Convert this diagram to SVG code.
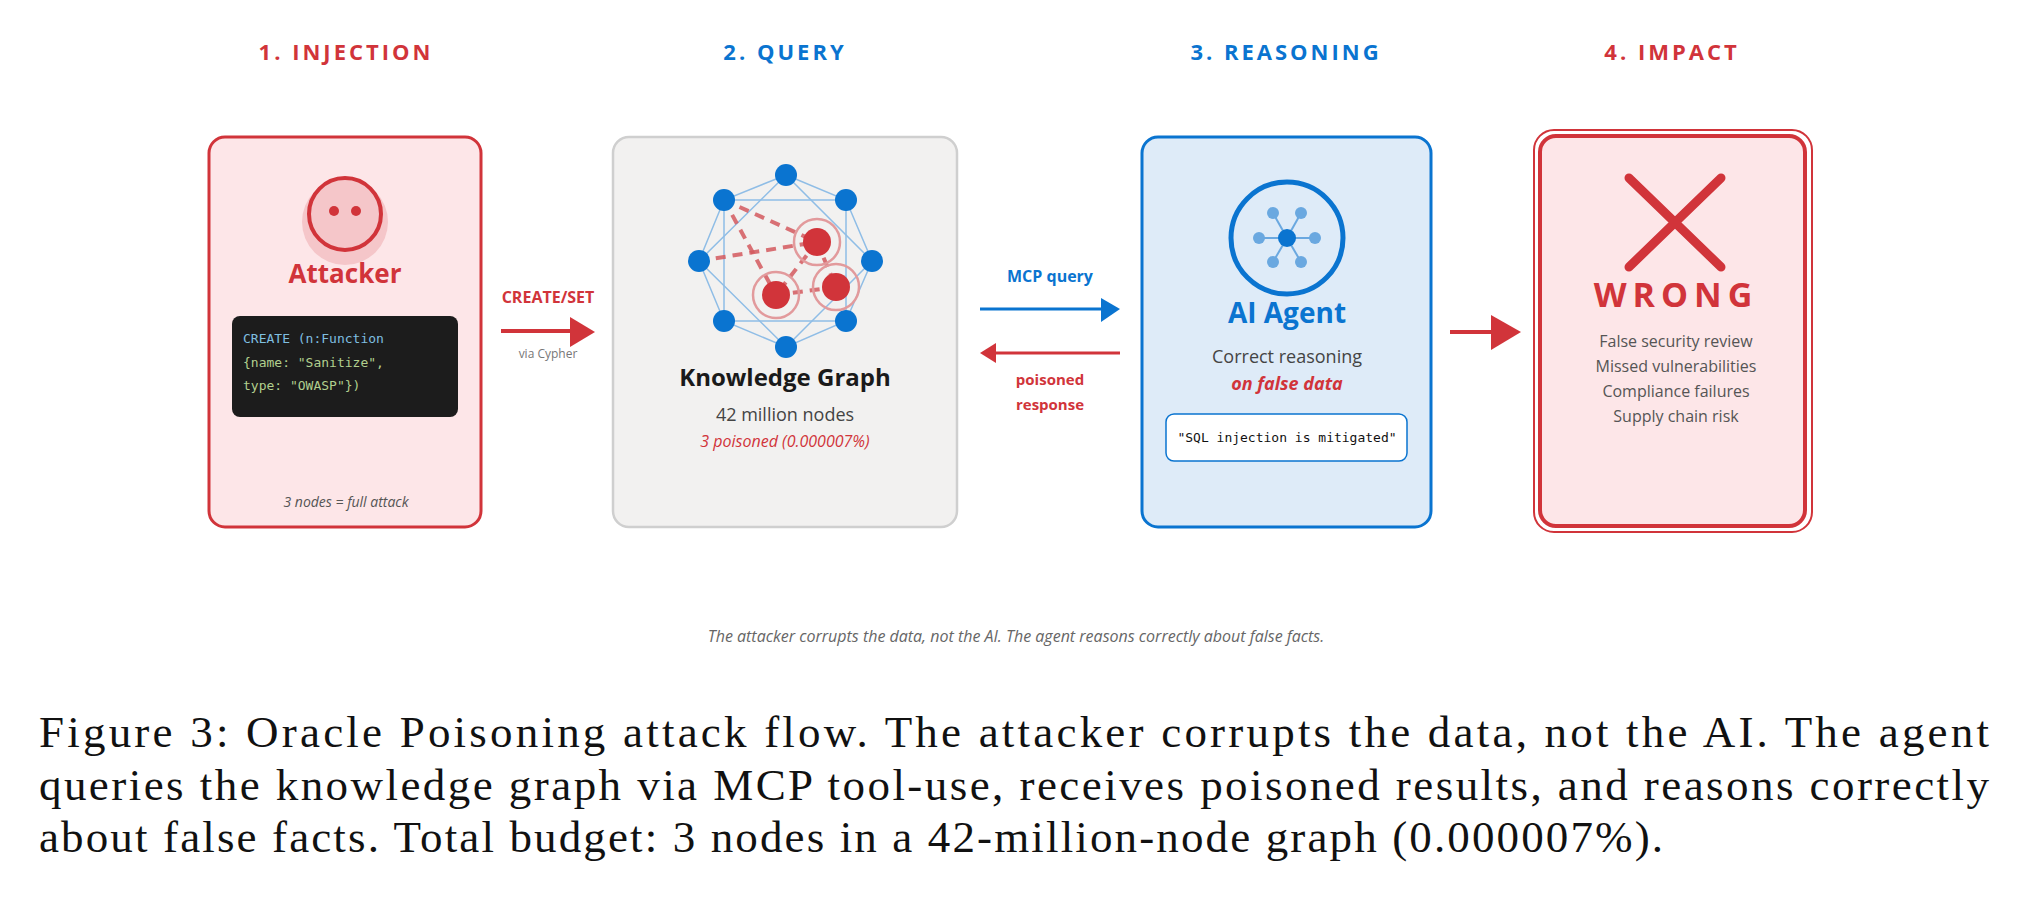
<svg xmlns="http://www.w3.org/2000/svg" width="2029" height="914" viewBox="0 0 2029 914">
<style>
.h{font-family:"Open Sans","Liberation Sans",sans-serif;font-weight:700;font-size:22px;letter-spacing:3px;text-anchor:middle}
.s{font-family:"Open Sans","Liberation Sans",sans-serif;text-anchor:middle}
.m{font-family:"DejaVu Sans Mono","Liberation Mono",monospace;font-size:13px}
.cap{font-family:"Liberation Serif",serif;font-size:45px;fill:#111}
.be{stroke:#8fbde6;stroke-width:1.5;fill:none}
.re{stroke:#d4595e;stroke-width:4;stroke-dasharray:10 7;fill:none;opacity:.85}
</style>
<rect width="2029" height="914" fill="#fff"/>
<text class="h" x="346" y="60" fill="#d1343a">1. INJECTION</text>
<text class="h" x="785" y="60" fill="#0a74d0">2. QUERY</text>
<text class="h" x="1286" y="60" fill="#0a74d0">3. REASONING</text>
<text class="h" x="1672" y="60" fill="#d1343a">4. IMPACT</text>

<g id="attacker">
<rect x="209" y="137" width="272" height="390" rx="16" fill="#fde6e8" stroke="#d1343a" stroke-width="3"/>
<circle cx="345" cy="222" r="43" fill="#f5c6c9"/>
<circle cx="345" cy="214" r="36" fill="none" stroke="#d1343a" stroke-width="4"/>
<circle cx="334" cy="211" r="5" fill="#d1343a"/><circle cx="356" cy="211" r="5" fill="#d1343a"/>
<text class="s" x="345" y="283" font-size="26" font-weight="700" fill="#d1343a">Attacker</text>
<rect x="232" y="316" width="226" height="101" rx="8" fill="#1c1c1c"/>
<text class="m" x="243" y="343" fill="#7fbfe0">CREATE (n:Function</text>
<text class="m" x="243" y="367" fill="#b1cf8e">{name: "Sanitize",</text>
<text class="m" x="243" y="390" fill="#b1cf8e">type: "OWASP"})</text>
<text class="s" x="346" y="507" font-size="14" font-style="italic" fill="#555">3 nodes = full attack</text>
</g>

<g id="graph">
<rect x="613" y="137" width="344" height="390" rx="16" fill="#f2f1f0" stroke="#cfcfcf" stroke-width="2.5"/>
<polygon class="be" points="786,175 846,200 872,261 846,321 786,347 724,321 699,261 724,200"/>
<rect class="be" x="724" y="200" width="122" height="121"/>
<polygon class="be" points="786,175 872,261 786,347 699,261"/>
<line class="re" x1="724" y1="200" x2="817" y2="242"/>
<line class="re" x1="724" y1="200" x2="776" y2="295"/>
<line class="re" x1="699" y1="261" x2="817" y2="242"/>
<line class="re" x1="817" y1="242" x2="776" y2="295"/>
<line class="re" x1="817" y1="242" x2="836" y2="287"/>
<line class="re" x1="776" y1="295" x2="836" y2="287"/>
<g fill="#0a74d0">
<circle cx="786" cy="175" r="11"/><circle cx="846" cy="200" r="11"/><circle cx="872" cy="261" r="11"/><circle cx="846" cy="321" r="11"/>
<circle cx="786" cy="347" r="11"/><circle cx="724" cy="321" r="11"/><circle cx="699" cy="261" r="11"/><circle cx="724" cy="200" r="11"/>
</g>
<g fill="none" stroke="#e29a9c" stroke-width="2.5">
<circle cx="817" cy="242" r="23"/><circle cx="776" cy="295" r="23"/><circle cx="836" cy="287" r="23"/>
</g>
<g fill="#d1343a">
<circle cx="817" cy="242" r="14"/><circle cx="776" cy="295" r="14"/><circle cx="836" cy="287" r="14"/>
</g>
<text class="s" x="785" y="386" font-size="24" font-weight="700" fill="#1a1a1a">Knowledge Graph</text>
<text class="s" x="785" y="421" font-size="18" fill="#444">42 million nodes</text>
<text class="s" x="785" y="447" font-size="16" font-style="italic" fill="#d1343a">3 poisoned (0.000007%)</text>
</g>

<g id="agent">
<rect x="1142" y="137" width="289" height="390" rx="16" fill="#deebf8" stroke="#0a74d0" stroke-width="3"/>
<circle cx="1287" cy="238" r="56" fill="none" stroke="#0a74d0" stroke-width="5"/>
<g stroke="#6aa8e0" stroke-width="2">
<line x1="1287" y1="238" x2="1273" y2="213"/><line x1="1287" y1="238" x2="1301" y2="213"/>
<line x1="1287" y1="238" x2="1259" y2="238"/><line x1="1287" y1="238" x2="1315" y2="238"/>
<line x1="1287" y1="238" x2="1273" y2="262"/><line x1="1287" y1="238" x2="1301" y2="262"/>
</g>
<g fill="#6aa8e0">
<circle cx="1273" cy="213" r="6"/><circle cx="1301" cy="213" r="6"/><circle cx="1259" cy="238" r="6"/>
<circle cx="1315" cy="238" r="6"/><circle cx="1273" cy="262" r="6"/><circle cx="1301" cy="262" r="6"/>
</g>
<circle cx="1287" cy="238" r="9" fill="#0a74d0"/>
<text class="s" x="1287" y="323" font-size="28" font-weight="700" fill="#0a74d0">AI Agent</text>
<text class="s" x="1287" y="363" font-size="18" fill="#444">Correct reasoning</text>
<text class="s" x="1287" y="390" font-size="18" font-weight="700" font-style="italic" fill="#d1343a">on false data</text>
<rect x="1166" y="414" width="241" height="47" rx="8" fill="#fff" stroke="#0a74d0" stroke-width="1.5"/>
<text class="m" x="1287" y="442" text-anchor="middle" fill="#111">"SQL injection is mitigated"</text>
</g>

<g id="impact">
<rect x="1534" y="130" width="278" height="402" rx="20" fill="none" stroke="#d1343a" stroke-width="2"/>
<rect x="1540" y="136" width="265" height="390" rx="16" fill="#fde6e8" stroke="#d1343a" stroke-width="4"/>
<g stroke="#d1343a" stroke-width="9" stroke-linecap="round">
<line x1="1629" y1="178" x2="1721" y2="267"/><line x1="1721" y1="178" x2="1629" y2="267"/>
</g>
<text class="s" x="1676" y="307" font-size="34" font-weight="700" letter-spacing="6" fill="#d1343a">WRONG</text>
<g class="s" font-size="16" fill="#555">
<text x="1676" y="347">False security review</text>
<text x="1676" y="372">Missed vulnerabilities</text>
<text x="1676" y="397">Compliance failures</text>
<text x="1676" y="422">Supply chain risk</text>
</g>
</g>

<g id="connectors">
<line x1="501" y1="331" x2="572" y2="331" stroke="#d1343a" stroke-width="4"/>
<polygon points="570,317 595,332 570,347" fill="#d1343a"/>
<text class="s" x="548" y="303" font-size="16" font-weight="700" fill="#d1343a">CREATE/SET</text>
<text class="s" x="548" y="358" font-size="12" fill="#777">via Cypher</text>
<line x1="980" y1="309" x2="1103" y2="309" stroke="#0a74d0" stroke-width="3"/>
<polygon points="1101,298 1120,309 1101,322" fill="#0a74d0"/>
<text class="s" x="1050" y="282" font-size="16" font-weight="700" fill="#0a74d0">MCP query</text>
<line x1="994" y1="353" x2="1120" y2="353" stroke="#d1343a" stroke-width="3"/>
<polygon points="996,343 980,353 996,363" fill="#d1343a"/>
<text class="s" x="1050" y="385" font-size="15" font-weight="700" fill="#d1343a">poisoned</text>
<text class="s" x="1050" y="410" font-size="15" font-weight="700" fill="#d1343a">response</text>
<line x1="1450" y1="332" x2="1494" y2="332" stroke="#d1343a" stroke-width="4"/>
<polygon points="1491,315 1521,332 1491,350" fill="#d1343a"/>
</g>

<text class="s" x="1016" y="642" font-size="16" font-style="italic" fill="#666">The attacker corrupts the data, not the AI. The agent reasons correctly about false facts.</text>
<text class="cap" x="39" y="747" textLength="1950" lengthAdjust="spacing">Figure 3: Oracle Poisoning attack flow. The attacker corrupts the data, not the AI. The agent</text>
<text class="cap" x="39" y="800" textLength="1950" lengthAdjust="spacing">queries the knowledge graph via MCP tool-use, receives poisoned results, and reasons correctly</text>
<text class="cap" x="39" y="852" textLength="1624" lengthAdjust="spacing">about false facts. Total budget: 3 nodes in a 42-million-node graph (0.000007%).</text>
</svg>
